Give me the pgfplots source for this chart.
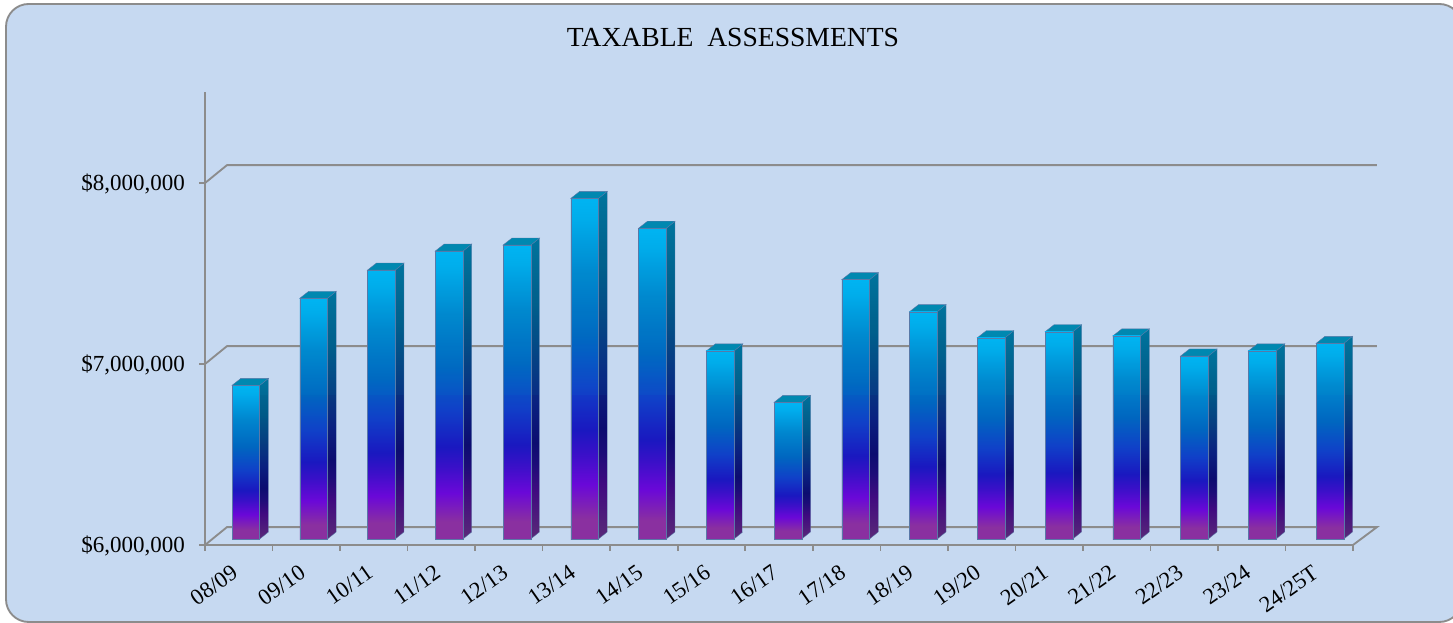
\documentclass[border=0pt]{standalone}
\usepackage{pgfplots}
\usepackage{fontspec}
\setmainfont{Liberation Serif}
\pgfplotsset{compat=1.18}
\definecolor{panel}{HTML}{C6D9F1}
\definecolor{axgray}{HTML}{8C8C8C}
\definecolor{edge}{HTML}{5A78A8}
\definecolor{barTop}{HTML}{0088B0}
\definecolor{band}{HTML}{00C0D8}
\definecolor{fa}{HTML}{8A30A0}\definecolor{fb}{HTML}{6A08D8}\definecolor{fc}{HTML}{3A10C8}
\definecolor{fd}{HTML}{1A18C0}\definecolor{fe}{HTML}{1040C8}\definecolor{ff}{HTML}{0066C0}
\definecolor{fg}{HTML}{0086CE}\definecolor{fh}{HTML}{00AEEE}\definecolor{fi}{HTML}{00B4F4}
\definecolor{sa}{HTML}{5A2A78}\definecolor{sb}{HTML}{400A80}\definecolor{sc}{HTML}{1C0C78}
\definecolor{sd}{HTML}{0C0C70}\definecolor{se}{HTML}{0A2080}\definecolor{sf}{HTML}{063C80}
\definecolor{sg}{HTML}{005A88}\definecolor{sh}{HTML}{00709A}
\pgfdeclareverticalshading{frontface}{100bp}{
 color(0bp)=(fa); color(28bp)=(fa); color(33bp)=(fb); color(37.5bp)=(fc);
 color(41bp)=(fd); color(47.5bp)=(fe); color(55bp)=(ff); color(64bp)=(fg); color(72.5bp)=(fh); color(75bp)=(fi); color(100bp)=(fi)}
\pgfdeclareverticalshading{sideface}{100bp}{
 color(0bp)=(sa); color(25bp)=(sa); color(33bp)=(sb); color(37.5bp)=(sc);
 color(41bp)=(sd); color(47.5bp)=(se); color(55bp)=(sf); color(64bp)=(sg); color(75bp)=(sh); color(100bp)=(sh)}
\newcommand{\TheBar}[2]{%
 \pgfmathsetmacro\xo{#1*1.0033}%
 \pgfmathsetmacro\xa{\xo-0.1}\pgfmathsetmacro\xb{\xo+0.31}\pgfmathsetmacro\xc{\xo+0.44}\pgfmathsetmacro\xd{\xo+0.033}%
 \pgfmathsetmacro\yt{#2+0.033}\pgfmathsetmacro\ytb{#2+0.072}%
 \addplot[shading=sideface,draw=edge,line width=0.3pt] coordinates {(\xb,6.033)(\xc,6.072)(\xc,\ytb)(\xb,\yt)} --cycle;
 \addplot[fill=barTop,draw=edge,line width=0.3pt] coordinates {(\xa,\yt)(\xb,\yt)(\xc,\ytb)(\xd,\ytb)} --cycle;
 \addplot[shading=frontface,draw=edge,line width=0.3pt] coordinates {(\xa,6.033)(\xb,6.033)(\xb,\yt)(\xa,\yt)} --cycle;
 \ifdim\yt pt>6.829pt
 \addplot[fill=band,fill opacity=0.05,draw=none] coordinates {(\xa,6.829)(\xc,6.829)(\xc,\ytb)(\xb,\yt)(\xa,\yt)} --cycle;
 \fi
}
\begin{document}
\begin{tikzpicture}[x=0.75pt,y=0.75pt]
\useasboundingbox (0,0) rectangle (1453,623);
\clip (0,0) rectangle (1453,623);
\fill[white] (0,0) rectangle (1453,623);
\draw[axgray,line width=1.4pt,fill=panel,rounded corners=17pt] (6,1) rectangle (1462,619);
\node[font=\fontsize{20.7}{24}\selectfont,text=black] at (733,585) {TAXABLE\ \ ASSESSMENTS};
\begin{axis}[
 at={(153.75pt,58.5pt)},anchor=south west,
 scale only axis,width=861pt,height=339.75pt,
 xmin=-0.5,xmax=16.5,ymin=6,ymax=8.503,
 clip=false,
 axis lines*=left,axis line style={draw=axgray,line width=1.4pt,-},
 tick style={draw=axgray,line width=1.2pt},
 tick align=outside,major tick length=4.5pt,
 ytick={6,7,8},yticklabels={{\$6,000,000},{\$7,000,000},{\$8,000,000}},
 y tick label style={font=\fontsize{17.25}{20}\selectfont,xshift=-7pt,yshift=-1pt},
 xtick={-0.5,0.5,1.5,2.5,3.5,4.5,5.5,6.5,7.5,8.5,9.5,10.5,11.5,12.5,13.5,14.5,15.5,16.5},
 xticklabels={},
 extra x ticks={0,1,2,3,4,5,6,7,8,9,10,11,12,13,14,15,16},
 extra x tick labels={08/09,09/10,10/11,11/12,12/13,13/14,14/15,15/16,16/17,17/18,18/19,19/20,20/21,21/22,22/23,23/24,24/25T},
 extra x tick style={major tick length=0pt,
  tick label style={font=\fontsize{17}{20}\selectfont,rotate=35,anchor=north east,inner sep=0pt,yshift=-8pt,xshift=-13pt}},
]
% walls and floor
\addplot[axgray,line width=1.4pt] coordinates {(-0.5,6)(-0.174,6.099)(16.855,6.099)(16.5,6)};
\addplot[axgray,line width=1.4pt] coordinates {(-0.5,7)(-0.174,7.099)(16.855,7.099)};
\addplot[axgray,line width=1.4pt] coordinates {(-0.5,8)(-0.174,8.099)(16.855,8.099)};
% bars: category index, value in millions
\TheBar{0}{6.849}
\TheBar{1}{7.330}
\TheBar{2}{7.486}
\TheBar{3}{7.591}
\TheBar{4}{7.624}
\TheBar{5}{7.882}
\TheBar{6}{7.717}
\TheBar{7}{7.039}
\TheBar{8}{6.755}
\TheBar{9}{7.433}
\TheBar{10}{7.256}
\TheBar{11}{7.112}
\TheBar{12}{7.145}
\TheBar{13}{7.122}
\TheBar{14}{7.011}
\TheBar{15}{7.039}
\TheBar{16}{7.081}
\end{axis}
\end{tikzpicture}
\end{document}
